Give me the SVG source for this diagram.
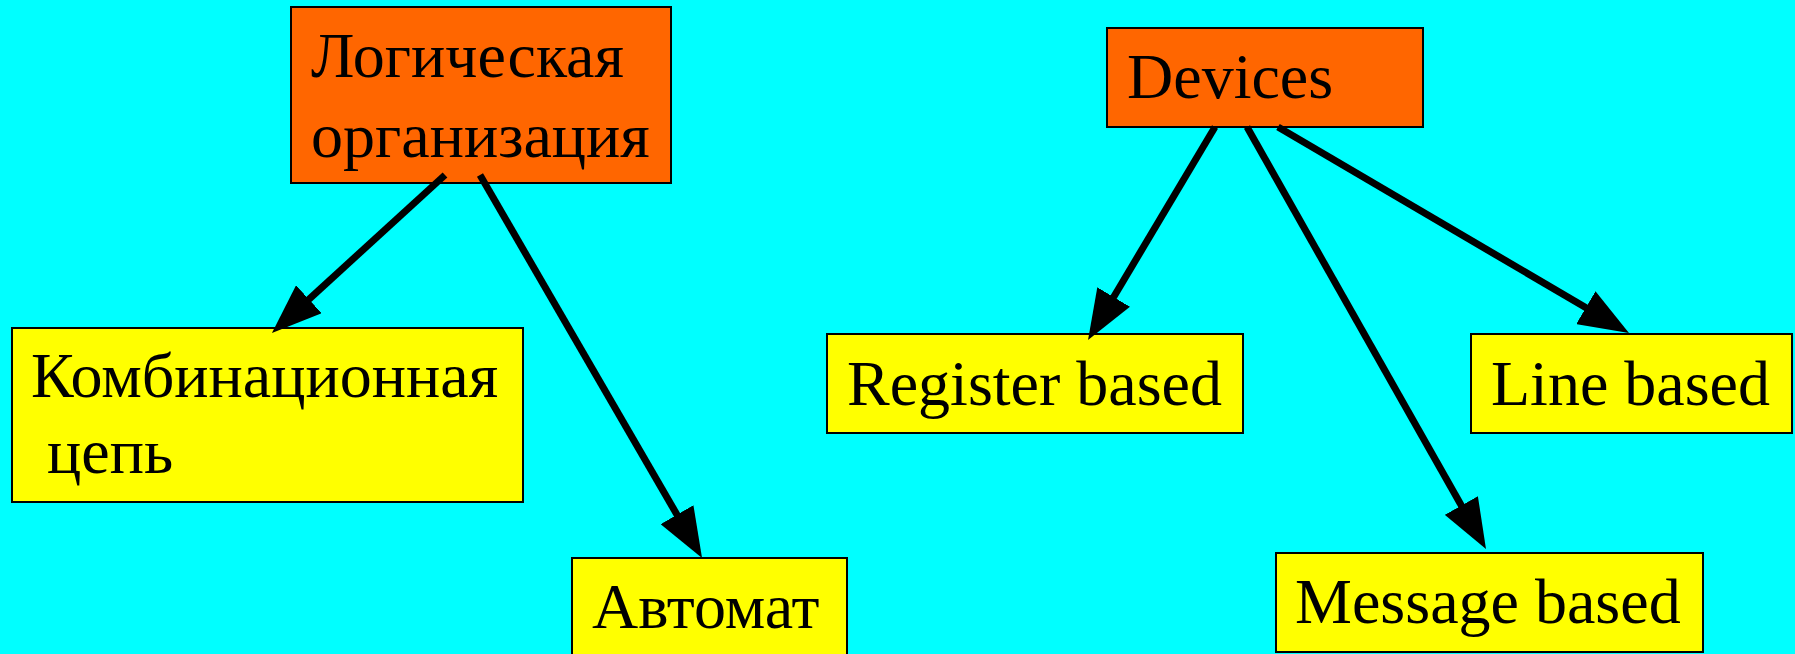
<svg xmlns="http://www.w3.org/2000/svg" width="1795" height="654" viewBox="0 0 1795 654">
  <style>
    .box { stroke: #000; stroke-width: 2; }
    .root { fill: #FF6600; }
    .leaf { fill: #FFFF00; }
    .label { font-family: "Liberation Serif", "Times New Roman", serif; font-size: 64px; fill: #000; }
    .edge { stroke: #000; stroke-width: 7; fill: none; marker-end: url(#arrow); }
  </style>
  <defs>
    <marker id="arrow" markerUnits="userSpaceOnUse" viewBox="0 0 50 38" refX="20" refY="19" markerWidth="50" markerHeight="38" orient="auto">
      <path d="M0,0 L50,19 L0,38 Z" fill="#000"/>
    </marker>
  </defs>

  <rect x="0" y="0" width="1795" height="654" fill="#00FFFF"/>

  <g id="node-logic">
    <rect class="box root" x="291" y="7" width="380" height="176"/>
    <text class="label" x="311" y="77">Логическая</text>
    <text class="label" x="311" y="157">организация</text>
  </g>

  <g id="node-combo">
    <rect class="box leaf" x="12" y="328" width="511" height="174"/>
    <text class="label" x="31" y="397">Комбинационная</text>
    <text class="label" x="47" y="473">цепь</text>
  </g>

  <g id="node-automat">
    <rect class="box leaf" x="572" y="558" width="275" height="110"/>
    <text class="label" x="592" y="628">Автомат</text>
  </g>

  <g id="node-devices">
    <rect class="box root" x="1107" y="28" width="316" height="99"/>
    <text class="label" x="1127" y="98">Devices</text>
  </g>

  <g id="node-register">
    <rect class="box leaf" x="827" y="334" width="416" height="99"/>
    <text class="label" x="847" y="405">Register based</text>
  </g>

  <g id="node-line">
    <rect class="box leaf" x="1471" y="334" width="321" height="99"/>
    <text class="label" x="1491" y="405">Line based</text>
  </g>

  <g id="node-message">
    <rect class="box leaf" x="1276" y="553" width="427" height="99"/>
    <text class="label" x="1295" y="623">Message based</text>
  </g>

  <g id="connectors">
    <line class="edge" x1="445" y1="175" x2="294.1" y2="312.8"/>
    <line class="edge" x1="480" y1="175" x2="687" y2="532"/>
    <line class="edge" x1="1215" y1="127" x2="1103.4" y2="314.2"/>
    <line class="edge" x1="1247" y1="127" x2="1471.2" y2="522.9"/>
    <line class="edge" x1="1278" y1="127" x2="1603.1" y2="317.8"/>
  </g>
</svg>
